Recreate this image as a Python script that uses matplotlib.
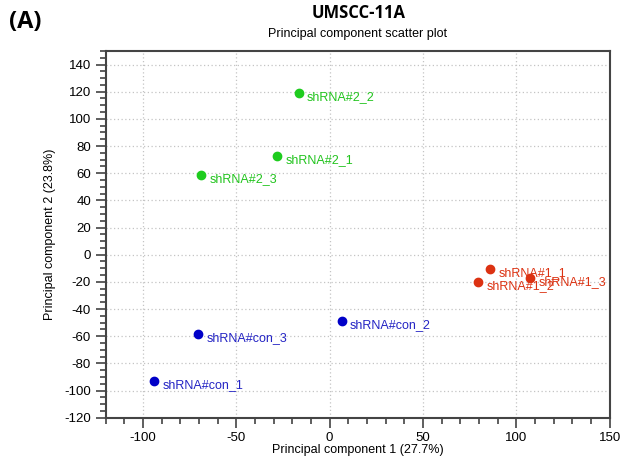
import numpy as np
import matplotlib
matplotlib.use('Agg')
import matplotlib.pyplot as plt
from matplotlib.ticker import MultipleLocator

# PCA scores
labels = ['shRNA#2_2', 'shRNA#2_1', 'shRNA#2_3',
          'shRNA#1_1', 'shRNA#1_2', 'shRNA#1_3',
          'shRNA#con_2', 'shRNA#con_3', 'shRNA#con_1']
pc1 = [-16.6, -28.3, -68.9, 85.8, 79.5, 107.2, 6.4, -70.4, -94.0]
pc2 = [119.0, 72.4, 58.8, -10.8, -19.9, -17.4, -48.8, -58.5, -92.8]
groups = ['sh2', 'sh2', 'sh2', 'sh1', 'sh1', 'sh1', 'con', 'con', 'con']
colors = {'sh2': '#1ecc1e', 'sh1': '#dc3212', 'con': '#0000c8'}
text_colors = {'sh2': '#22c41e', 'sh1': '#dc3212', 'con': '#2424c4'}

plt.rcParams['font.family'] = ['Liberation Sans', 'DejaVu Sans']
plt.rcParams['axes.unicode_minus'] = False

fig = plt.figure(figsize=(6.21, 4.61), dpi=100)
ax = fig.add_axes([0.170, 0.094, 0.812, 0.7955])

for x, y, lab, g in zip(pc1, pc2, labels, groups):
    ax.plot(x, y, 'o', color=colors[g], ms=6, zorder=3)
    ax.annotate(lab, (x, y), xytext=(6, -3), textcoords='offset points',
                color=text_colors[g], fontsize=9, va='center', ha='left')

ax.set_xlim(-120, 150)
ax.set_ylim(-120, 150)
ax.xaxis.set_major_locator(MultipleLocator(50))
ax.xaxis.set_minor_locator(MultipleLocator(10))
ax.yaxis.set_minor_locator(MultipleLocator(5))
ax.set_yticks(np.arange(-120, 141, 20))
ax.grid(True, which='major', ls=(0, (1, 2)), color='#c4c4c4', lw=0.9)
ax.tick_params(which='major', direction='out', length=7, width=1.1,
               labelsize=9.5, color='#333333')
ax.tick_params(which='minor', direction='out', length=4, width=1.1,
               color='#333333')
for s in ax.spines.values():
    s.set_linewidth(1.5)
    s.set_color('#444444')

ax.set_xlabel('Principal component 1 (27.7%)', fontsize=9, labelpad=0)
ax.set_ylabel('Principal component 2 (23.8%)', fontsize=9, labelpad=6)

fig.text(0.578, 0.972, 'UMSCC-11A', fontsize=12, fontweight='bold',
         ha='center', va='center', family=['Open Sans', 'DejaVu Sans'])
fig.text(0.5765, 0.926, 'Principal component scatter plot', fontsize=9,
         ha='center', va='center')
fig.text(0.015, 0.952, '(A)', fontsize=17, fontweight='bold',
         ha='left', va='center', family=['Open Sans', 'DejaVu Sans'])

fig.savefig('out.png', dpi=100)
